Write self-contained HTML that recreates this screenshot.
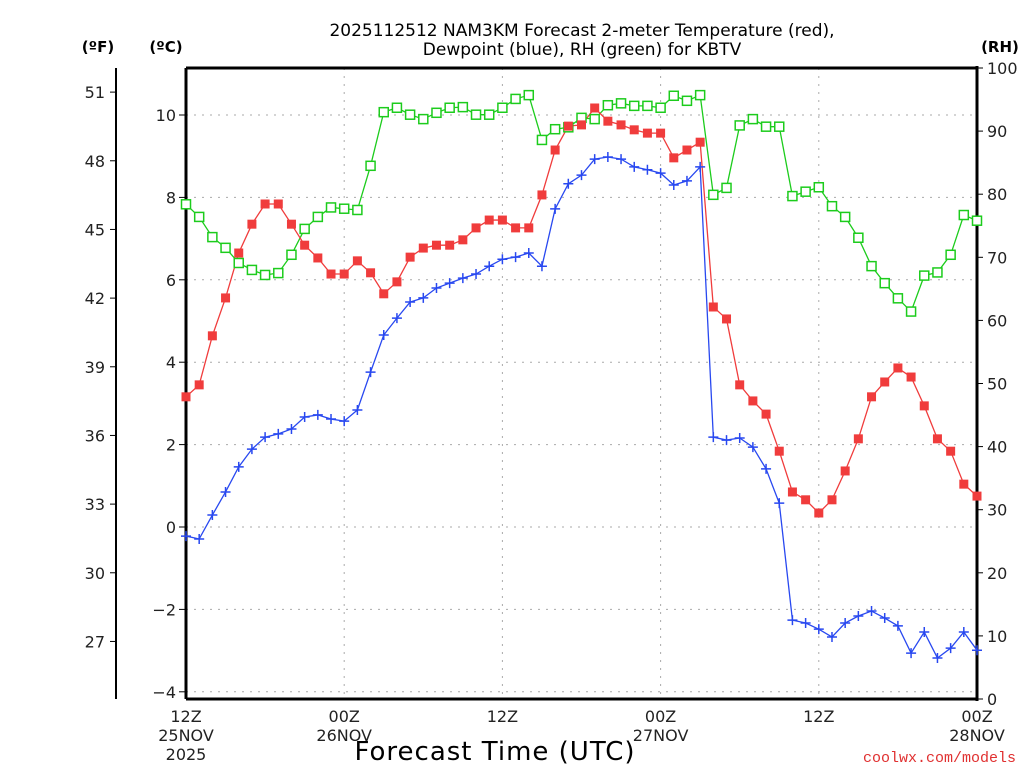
<!DOCTYPE html>
<html><head><meta charset="utf-8"><style>
html,body{margin:0;padding:0;background:#fff;}
svg{display:block;font-family:"DejaVu Sans","Liberation Sans",sans-serif;}
</style></head><body>
<svg id="chart" width="1024" height="768" viewBox="0 0 1024 768" xmlns="http://www.w3.org/2000/svg">
<rect width="1024" height="768" fill="#fff"/>
<g id="grid"></g>
<g id="axes"></g>
<g id="series"></g>
<text x="582" y="36" font-size="17" text-anchor="middle">2025112512 NAM3KM Forecast 2-meter Temperature (red),</text>
<text x="582" y="55" font-size="17" text-anchor="middle">Dewpoint (blue), RH (green) for KBTV</text>
<text x="98" y="52" font-size="15" font-weight="bold" text-anchor="middle">(ºF)</text>
<text x="166" y="52" font-size="15" font-weight="bold" text-anchor="middle">(ºC)</text>
<text x="1000" y="52" font-size="15" font-weight="bold" text-anchor="middle">(RH)</text>
<text x="495" y="760" font-size="26" text-anchor="middle" letter-spacing="1">Forecast Time (UTC)</text>
<text x="1016" y="762" font-size="15" fill="#e03030" text-anchor="end" font-family="Liberation Mono, monospace">coolwx.com/models</text>
</svg>
<script>
const hours = [];
for (let h = 0; h <= 60; h++) hours.push(h);
const tempC = [3.16,3.45,4.64,5.56,6.65,7.35,7.84,7.84,7.35,6.84,6.53,6.14,6.14,6.46,6.17,5.66,5.95,6.55,6.77,6.84,6.84,6.97,7.26,7.45,7.45,7.26,7.26,8.06,9.15,9.73,9.76,10.17,9.85,9.76,9.64,9.56,9.56,8.96,9.15,9.34,5.34,5.05,3.45,3.06,2.74,1.84,0.85,0.66,0.34,0.66,1.36,2.14,3.16,3.52,3.86,3.64,2.94,2.14,1.84,1.04,0.75];
const dewC = [-0.22,-0.29,0.29,0.85,1.46,1.89,2.18,2.26,2.38,2.67,2.72,2.62,2.57,2.84,3.76,4.66,5.07,5.46,5.56,5.80,5.92,6.04,6.14,6.33,6.50,6.55,6.65,6.33,7.72,8.33,8.54,8.93,8.98,8.93,8.74,8.67,8.59,8.30,8.40,8.74,2.18,2.11,2.16,1.94,1.41,0.58,-2.26,-2.33,-2.48,-2.67,-2.33,-2.16,-2.04,-2.21,-2.40,-3.06,-2.55,-3.18,-2.94,-2.55,-2.99];
const rh = [78.4,76.4,73.2,71.5,69.1,68.0,67.2,67.5,70.4,74.5,76.4,77.9,77.7,77.5,84.5,93.0,93.7,92.6,91.9,92.9,93.7,93.8,92.6,92.6,93.7,95.1,95.7,88.6,90.3,90.6,92.1,91.9,94.1,94.4,94.0,94.0,93.7,95.6,94.8,95.7,79.9,81.0,90.9,91.9,90.7,90.7,79.7,80.4,81.1,78.1,76.4,73.1,68.6,65.9,63.5,61.4,67.1,67.6,70.4,76.7,75.8];
const cTicks = [-4,-2,0,2,4,6,8,10];
const fTicks = [27,30,33,36,39,42,45,48,51];
const rhTicks = [0,10,20,30,40,50,60,70,80,90,100];
const xTickHours = [0,12,24,36,48,60];
const xTickLabels = [["12Z","25NOV","2025"],["00Z","26NOV"],["12Z"],["00Z","27NOV"],["12Z"],["00Z","28NOV"]];

const L=186,R=977,T=68,B=699;
const xS = h => L + (h/60)*(R-L);
const yC = c => 527 - c*41.2;
const yF = f => yC((f-32)*5/9);
const yRH = v => B - v*(B-T)/100;
const NS="http://www.w3.org/2000/svg";
function mk(tag, attrs, parent){const e=document.createElementNS(NS,tag);for(const k in attrs)e.setAttribute(k,attrs[k]);parent.appendChild(e);return e;}
const grid=document.getElementById('grid'), axes=document.getElementById('axes'), ser=document.getElementById('series');

cTicks.forEach(c=>{
  const l=mk('line',{x1:L,x2:R,y1:yC(c),y2:yC(c),stroke:'#aaa','stroke-dasharray':'2,6'},grid);
  
  
  const t=mk('line',{x1:L-7,x2:L,y1:yC(c),y2:yC(c),stroke:'#000'},axes);
  
  
  const tx=mk('text',{x:L-10,y:yC(c)+6,'font-size':16,'text-anchor':'end',fill:'#222'},axes);
  tx.textContent = c<0 ? '\u2212'+Math.abs(c) : String(c);
  
  
});
xTickHours.forEach((h,i)=>{
  if(h>0&&h<60){
    const l=mk('line',{x1:xS(h),x2:xS(h),y1:T,y2:B,stroke:'#aaa','stroke-dasharray':'2,6'},grid);
    
    
  }
  xTickLabels[i].forEach((s,j)=>{
    const tx=mk('text',{x:xS(h),y:722+j*19,'font-size':16,'text-anchor':'middle',fill:'#222'},axes);
    tx.textContent=s;
    
    
  });
});
const fa=mk('line',{x1:116,x2:116,y1:T,y2:B,stroke:'#000','stroke-width':2},axes);


fTicks.forEach(f=>{
  const t=mk('line',{x1:110,x2:116,y1:yF(f),y2:yF(f),stroke:'#000'},axes);
  
  
  const tx=mk('text',{x:105,y:yF(f)+6,'font-size':16,'text-anchor':'end',fill:'#222'},axes);
  tx.textContent=String(f);
  
  
});
rhTicks.forEach(v=>{
  const t=mk('line',{x1:R,x2:R+6,y1:yRH(v),y2:yRH(v),stroke:'#000'},axes);
  
  
  const tx=mk('text',{x:R+10,y:yRH(v)+6,'font-size':16,fill:'#222'},axes);
  tx.textContent=String(v);
  
  
});
const fr=mk('path',{d:`M${L},${T}H${R}M${L},${B}H${R}M${L},${T}V${B}`,stroke:'#000','stroke-width':3,fill:'none'},axes);


const ra=mk('line',{x1:R,x2:R,y1:T-2,y2:B+2,stroke:'#000','stroke-width':3},axes);



function line(vals,yf,color,name){
  const p=mk('polyline',{points:vals.map((v,i)=>xS(hours[i])+','+yf(v)).join(' '),fill:'none',stroke:color,'stroke-width':1.3},ser);
  
  
}
line(rh,yRH,'#1ccc1c','rh-line');
line(tempC,yC,'#f03c3c','temperature-line');
line(dewC,yC,'#2848f0','dewpoint-line');
rh.forEach((v,i)=>{
  const r=mk('rect',{x:xS(hours[i])-4.5,y:yRH(v)-4.5,width:9,height:9,fill:'#fff',stroke:'#1ccc1c','stroke-width':1.5},ser);
  
  
});
tempC.forEach((v,i)=>{
  const r=mk('rect',{x:xS(hours[i])-4.5,y:yC(v)-4.5,width:9,height:9,fill:'#f03c3c'},ser);
  
  
});
dewC.forEach((v,i)=>{
  const x=xS(hours[i]),y=yC(v);
  const p=mk('path',{d:`M${x-5},${y}H${x+5}M${x},${y-5}V${y+5}`,stroke:'#2848f0','stroke-width':1.5},ser);
  
  
});
</script>
</body></html>
